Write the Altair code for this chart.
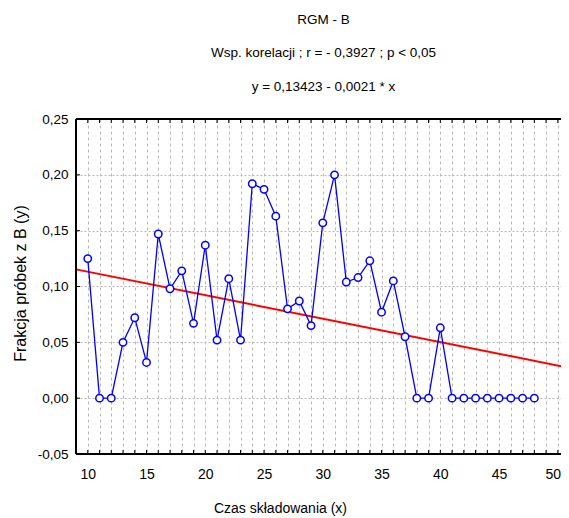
import altair as alt
import pandas as pd

X_VALUES = [10, 11, 12, 13, 14, 15, 16, 17, 18, 19, 20, 21, 22, 23, 24, 25, 26, 27, 28, 29,
            30, 31, 32, 33, 34, 35, 36, 37, 38, 39, 40, 41, 42, 43, 44, 45, 46, 47, 48]
Y_VALUES = [0.125, 0.0, 0.0, 0.050, 0.072, 0.032, 0.147, 0.098, 0.114, 0.067,
            0.137, 0.052, 0.107, 0.052, 0.192, 0.187, 0.163, 0.080, 0.087, 0.065,
            0.157, 0.200, 0.104, 0.108, 0.123, 0.077, 0.105, 0.055, 0.0, 0.0,
            0.063, 0.0, 0.0, 0.0, 0.0, 0.0, 0.0, 0.0, 0.0]
INTERCEPT = 0.13423
SLOPE = -0.0021
X_DOMAIN = [9, 50.95]
Y_DOMAIN = [-0.05, 0.25]
X_TICKS = [10, 11, 12, 13, 14, 15, 16, 17, 18, 19, 20, 21, 22, 23, 24, 25, 26, 27, 28, 29, 30,
           31, 32, 33, 34, 35, 36, 37, 38, 39, 40, 41, 42, 43, 44, 45, 46, 47, 48, 49, 50]
Y_TICKS = [-0.05, 0.0, 0.05, 0.10, 0.15, 0.20, 0.25]
TITLE_LINES = ["RGM - B", "Wsp. korelacji ; r = - 0,3927 ; p < 0,05", "y = 0,13423 - 0,0021 * x"]
X_TITLE = "Czas składowania (x)"
Y_TITLE = "Frakcja próbek z B (y)"

W_VIEW = 485      # plot area width declared to Vega-Lite (canvas must fit the page width)
W_FULL = 493      # full plot width used by the x scale
H = 335
FONT = "Liberation Sans, Arial, sans-serif"

xs = alt.Scale(domain=X_DOMAIN, range=[0, W_FULL], nice=False, zero=False)
ys = alt.Scale(domain=Y_DOMAIN, nice=False, zero=False)

pts = pd.DataFrame({"x": X_VALUES, "y": Y_VALUES})
reg = pd.DataFrame({"x": X_DOMAIN, "y": [INTERCEPT + SLOPE * v for v in X_DOMAIN]})
xt = pd.DataFrame({"x": X_TICKS})
yt = pd.DataFrame({"y": Y_TICKS})

x_axis = alt.Axis(values=X_TICKS, grid=True, gridDash=[3, 3], gridColor="#b8b8b8", gridWidth=1,
                  ticks=False, domain=False, labelOverlap=False,
                  labelExpr="datum.value % 5 == 0 ? datum.value : ''",
                  labelOffset={"condition": {"test": "datum.value >= 50", "value": -5}, "value": 0},
                  labelFont=FONT, labelFontSize=14, labelColor="black", labelPadding=13,
                  title=X_TITLE, titleFont=FONT, titleFontSize=14, titleFontWeight="normal",
                  titleColor="black", titlePadding=20, titleX=204)
y_axis = alt.Axis(values=Y_TICKS, grid=True, gridDash=[2, 2], gridColor="#b8b8b8", gridWidth=1,
                  ticks=False, domain=False, labelOverlap=False,
                  labelExpr="replace(replace(format(datum.value, '.2f'), '.', ','), '\u2212', '-')",
                  labelFont=FONT, labelFontSize=13.5, labelColor="black", labelPadding=8,
                  title=Y_TITLE, titleFont=FONT, titleFontSize=16, titleFontWeight="normal",
                  titleColor="black", titleX=-56, titleY=164, titleBaseline="middle",
                  titleAlign="center", titleAngle=270)

X_ENC = alt.X("x:Q", scale=xs, axis=x_axis)
Y_ENC = alt.Y("y:Q", scale=ys, axis=y_axis)

reg_line = alt.Chart(reg).mark_line(color="#ff0000", strokeWidth=2).encode(x=X_ENC, y=Y_ENC)
data_line = alt.Chart(pts).mark_line(color="#0000ff", strokeWidth=1.3).encode(x=X_ENC, y=Y_ENC)
data_pts = alt.Chart(pts).mark_point(shape="circle", filled=True, fill="white", stroke="#0000ff",
                                     strokeWidth=1.5, size=55, opacity=1).encode(x=X_ENC, y=Y_ENC)

top_ticks = alt.Chart(xt).mark_rule(color="black", strokeWidth=1).encode(
    x=X_ENC, y=alt.value(0), y2=alt.value(4))
bot_ticks = alt.Chart(xt).mark_rule(color="black", strokeWidth=1).encode(
    x=X_ENC, y=alt.value(H), y2=alt.value(H - 4))
left_ticks = alt.Chart(yt).mark_rule(color="black", strokeWidth=1).encode(
    y=Y_ENC, x=alt.value(0), x2=alt.value(4))

frame_top = alt.Chart(xt).mark_rule(color="black", strokeWidth=1.5).encode(
    x=alt.value(0), x2=alt.value(W_FULL), y=alt.value(0))
frame_bot = alt.Chart(xt).mark_rule(color="black", strokeWidth=2).encode(
    x=alt.value(0), x2=alt.value(W_FULL), y=alt.value(H))
frame_left = alt.Chart(xt).mark_rule(color="black", strokeWidth=2).encode(
    x=alt.value(0), y=alt.value(0), y2=alt.value(H))

chart = alt.layer(
    reg_line, data_line, data_pts, top_ticks, bot_ticks, left_ticks, frame_top, frame_bot, frame_left
).properties(
    width=W_VIEW, height=H,
    title=alt.TitleParams(text=TITLE_LINES, font=FONT, fontSize=13.5, fontWeight="normal",
                          color="black", anchor="middle", frame="group", lineHeight=33.5,
                          offset=19, dx=5),
    autosize=alt.AutoSizeParams(type="none"),
    padding={"left": 68, "top": 111, "right": 0, "bottom": 64},
).configure_view(stroke=None).configure(background="white")

chart.save("out.html", embed_options={"renderer": "svg", "actions": False})
